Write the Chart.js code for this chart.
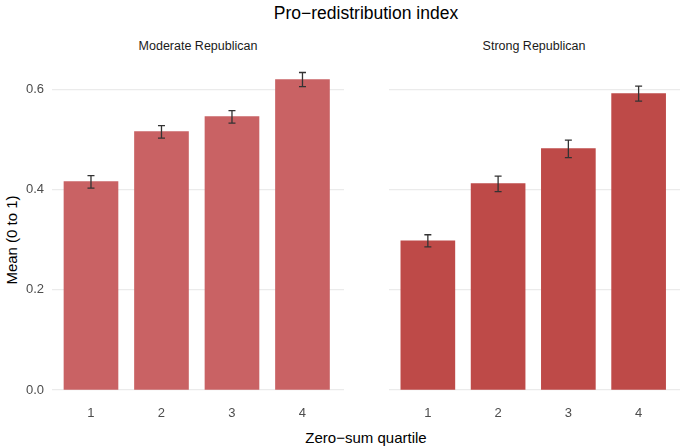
<!DOCTYPE html>
<html>
<head>
<meta charset="utf-8">
<script src="https://cdn.jsdelivr.net/npm/chart.js@4"></script>
<style>
  body{margin:0;background:#fff;font-family:"Liberation Sans",Arial,sans-serif;}
  #wrap{position:relative;width:680px;height:448px;overflow:hidden;}
  .txt{position:absolute;white-space:nowrap;transform:translate(-50%,-50%);}
  canvas{position:absolute;top:0;}
</style>
</head>
<body>
<div id="wrap">
  <div class="txt" style="left:366px;top:13px;font-size:17.5px;color:#000;">Pro−redistribution index</div>
  <div class="txt" style="left:198px;top:46px;font-size:12.5px;color:#1a1a1a;">Moderate Republican</div>
  <div class="txt" style="left:534px;top:46px;font-size:12.5px;color:#1a1a1a;">Strong Republican</div>
  <div class="txt" style="left:366px;top:437px;font-size:15px;color:#000;">Zero−sum quartile</div>
  <div class="txt" style="left:11px;top:240px;font-size:15px;color:#000;transform:translate(-50%,-50%) rotate(-90deg);">Mean (0 to 1)</div>
  <div id="left" style="position:absolute;left:0;top:0;width:344px;height:448px;"><canvas id="c1"></canvas></div>
  <div id="right" style="position:absolute;left:389px;top:0;width:291px;height:448px;"><canvas id="c2"></canvas></div>
</div>
<script>
// Data
const quartiles=[1,2,3,4];
const yTicks=[0,0.2,0.4,0.6];
const modMean=[0.416,0.516,0.546,0.620];
const modLow=[0.403,0.503,0.533,0.606];
const modHigh=[0.428,0.528,0.558,0.634];
const strMean=[0.298,0.412,0.482,0.592];
const strLow=[0.286,0.396,0.464,0.577];
const strHigh=[0.310,0.427,0.499,0.607];

const errorBars={
  id:"errorBars",
  afterDatasetsDraw(chart,args,opts){
    const {ctx,scales:{x,y}}=chart;
    ctx.save();
    ctx.strokeStyle="#333333";
    ctx.lineWidth=1.3;
    opts.low.forEach((lo,i)=>{
      const px=x.getPixelForValue(quartiles[i]);
      const y1=y.getPixelForValue(lo), y2=y.getPixelForValue(opts.high[i]);
      ctx.beginPath();
      ctx.moveTo(px,y1);ctx.lineTo(px,y2);
      ctx.moveTo(px-3.5,y1);ctx.lineTo(px+3.5,y1);
      ctx.moveTo(px-3.5,y2);ctx.lineTo(px+3.5,y2);
      ctx.stroke();
    });
    ctx.restore();
  }
};

function makePanel(id,means,low,high,color,showY){
  return new Chart(document.getElementById(id),{
    type:"bar",
    data:{datasets:[{
      data:quartiles.map((q,i)=>({x:q,y:means[i]})),
      backgroundColor:color,
      barThickness:54
    }]},
    plugins:[errorBars],
    options:{
      responsive:true,maintainAspectRatio:false,animation:false,
      layout:{padding:{top:57,left:0,right:0,bottom:0}},
      plugins:{legend:{display:false},tooltip:{enabled:false},errorBars:{low,high}},
      scales:{
        x:{
          type:"linear",min:0.447,max:4.589,offset:false,
          afterBuildTicks:s=>{s.ticks=quartiles.map(v=>({value:v}));},
          afterFit:s=>{s.height=58;},
          grid:{display:false},border:{display:false},
          ticks:{color:"#4d4d4d",font:{size:13,family:"Liberation Sans"},padding:8,maxRotation:0}
        },
        y:{
          min:0,max:0.665,
          afterBuildTicks:s=>{s.ticks=yTicks.map(v=>({value:v}));},
          afterFit:s=>{s.width=showY?52:0;},
          grid:{color:"#ebebeb",lineWidth:1.2,drawTicks:false},border:{display:false},
          ticks:{display:showY,color:"#4d4d4d",font:{size:13,family:"Liberation Sans"},padding:8,
            callback:v=>v.toFixed(1)}
        }
      }
    }
  });
}

makePanel("c1",modMean,modLow,modHigh,"#c96264",true);
makePanel("c2",strMean,strLow,strHigh,"#be4a48",false);
</script>
</body>
</html>
